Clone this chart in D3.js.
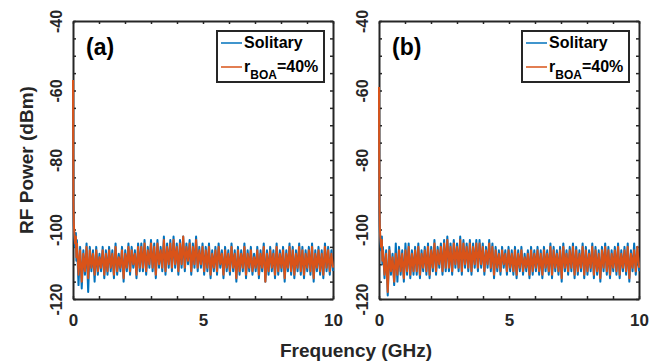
<!DOCTYPE html>
<html>
<head>
<meta charset="utf-8">
<title>RF spectra</title>
<script src="https://d3js.org/d3.v7.min.js"></script>
<style>
body { margin: 0; background: #fff; }
svg { font-family: "Liberation Sans", Arial, sans-serif; font-weight: bold; }
</style>
</head>
<body>
<script>
// frequency points of the DC peak (GHz)
var peakFreq = [0, 0.005, 0.015, 0.03, 0.05, 0.08, 0.11, 0.13];
var peakSolA = [-60, -80, -94, -99, -102, -105, -101, -109];
var peakBoaA = [-57, -75, -92, -98, -101, -104, -102, -108];
var peakSolB = [-62, -82, -95, -100, -103, -106, -102, -110];
var peakBoaB = [-59, -78, -93, -99, -102, -105, -103, -109];

// noise floor, sampled from 0.15 GHz to 10 GHz
var noiseStart = 0.15, noiseStep = 9.85 / 159;

var noiseSolA = [
  -103,-116,-105,-117,-106,-113,-104,-118,-105,-112,-106,-115,-105,-113,-107,-112,-105,-114,-106,-113,
  -105,-112,-106,-114,-104,-113,-107,-112,-105,-115,-106,-112,-104,-113,-105,-111,-106,-114,-104,-112,
  -104,-112,-103,-113,-105,-111,-103,-112,-104,-114,-103,-111,-105,-112,-102,-113,-104,-111,-103,-112,
  -102,-111,-104,-113,-103,-111,-102,-112,-104,-110,-103,-113,-104,-111,-102,-112,-105,-111,-104,-113,
  -105,-112,-104,-114,-106,-112,-105,-113,-104,-111,-106,-114,-105,-112,-106,-113,-104,-112,-106,-115,
  -105,-113,-106,-112,-104,-114,-106,-112,-105,-113,-107,-112,-105,-114,-106,-112,-104,-115,-106,-113,
  -105,-112,-106,-114,-104,-113,-106,-112,-105,-115,-106,-112,-104,-113,-105,-114,-106,-112,-104,-113,
  -105,-114,-106,-112,-105,-113,-104,-115,-106,-112,-105,-113,-106,-114,-104,-112,-105,-113,-106,-112
];
var noiseBoaA = [
  -104,-113,-106,-115,-107,-112,-105,-114,-106,-111,-107,-113,-106,-112,-108,-111,-106,-113,-107,-112,
  -106,-111,-107,-113,-105,-112,-108,-111,-106,-114,-107,-111,-105,-112,-106,-110,-107,-113,-105,-111,
  -105,-111,-104,-112,-106,-110,-104,-111,-105,-113,-104,-110,-106,-111,-103,-112,-105,-110,-104,-111,
  -103,-110,-105,-112,-104,-110,-102,-111,-105,-109,-104,-112,-105,-110,-103,-111,-106,-110,-105,-112,
  -106,-111,-105,-113,-107,-111,-106,-112,-105,-110,-107,-113,-106,-111,-107,-112,-105,-111,-107,-114,
  -106,-112,-107,-111,-105,-113,-107,-111,-106,-112,-108,-111,-106,-113,-107,-111,-105,-115,-107,-112,
  -106,-111,-107,-113,-105,-112,-107,-111,-106,-114,-107,-111,-105,-112,-106,-113,-107,-111,-105,-112,
  -106,-113,-107,-111,-106,-112,-105,-114,-107,-111,-106,-112,-107,-113,-105,-111,-106,-112,-107,-111
];
var noiseSolB = [
  -105,-114,-106,-119,-105,-113,-107,-116,-104,-115,-105,-113,-106,-115,-104,-113,-104,-114,-106,-113,
  -105,-113,-104,-114,-106,-112,-105,-113,-104,-114,-105,-112,-103,-113,-105,-111,-104,-113,-103,-112,
  -102,-112,-104,-113,-103,-111,-104,-112,-102,-113,-103,-111,-104,-112,-103,-113,-104,-111,-103,-112,
  -103,-111,-104,-113,-105,-111,-103,-112,-104,-114,-105,-112,-106,-113,-105,-111,-106,-113,-105,-112,
  -106,-113,-105,-114,-106,-112,-105,-113,-107,-112,-106,-114,-105,-113,-106,-112,-105,-113,-106,-114,
  -105,-112,-106,-113,-104,-114,-105,-112,-106,-113,-105,-115,-104,-112,-106,-113,-105,-112,-104,-114,
  -105,-113,-106,-112,-104,-114,-105,-113,-106,-112,-104,-114,-105,-113,-106,-115,-105,-112,-104,-113,
  -105,-114,-106,-112,-105,-113,-104,-114,-106,-112,-105,-113,-104,-115,-106,-112,-104,-113,-105,-112
];
var noiseBoaB = [
  -106,-113,-107,-118,-106,-112,-108,-115,-107,-113,-106,-112,-107,-114,-106,-112,-105,-113,-107,-112,
  -106,-112,-105,-113,-107,-111,-106,-112,-105,-113,-106,-111,-104,-112,-106,-110,-105,-112,-104,-111,
  -103,-111,-105,-112,-104,-110,-105,-111,-103,-112,-104,-110,-105,-111,-104,-112,-105,-110,-104,-111,
  -104,-110,-105,-112,-106,-110,-104,-111,-105,-113,-106,-111,-107,-112,-106,-110,-107,-112,-106,-111,
  -107,-112,-106,-113,-107,-111,-106,-112,-108,-111,-107,-113,-106,-112,-107,-111,-106,-112,-107,-113,
  -106,-111,-107,-112,-105,-113,-106,-111,-107,-112,-106,-114,-105,-111,-107,-112,-106,-111,-105,-113,
  -106,-112,-107,-111,-105,-113,-106,-112,-107,-111,-105,-113,-106,-112,-107,-114,-106,-111,-105,-112,
  -106,-113,-107,-111,-106,-112,-105,-113,-107,-111,-106,-112,-105,-114,-107,-111,-106,-112,-105,-111
];

var xTicks = [0, 1, 2, 3, 4, 5, 6, 7, 8, 9, 10];
var xLabels = [0, 5, 10];
var yTicks = [-120, -115, -110, -105, -100, -95, -90, -85, -80, -75, -70, -65, -60, -55, -50, -45, -40];
var yLabels = [-120, -100, -80, -60, -40];
var legendNames = ["Solitary", "r_BOA=40%"];
var colors = ["#0072BD", "#D95319"];
var axisColor = "#262626";

function series(peak, noise) {
  var pts = peak.map(function(v, i) { return [peakFreq[i], v]; });
  noise.forEach(function(v, i) { pts.push([noiseStart + i * noiseStep, v]); });
  return pts;
}

var panels = [
  { tag: "(a)", left: 73, legendX: 217, data: [series(peakSolA, noiseSolA), series(peakBoaA, noiseBoaA)] },
  { tag: "(b)", left: 379, legendX: 522, data: [series(peakSolB, noiseSolB), series(peakBoaB, noiseBoaB)] }
];

var W = 657, H = 364, plotTop = 21, plotBottom = 299, pw = 260;

var svg = d3.select("body").append("svg")
  .attr("width", W).attr("height", H);

var y = d3.scaleLinear().domain([-120, -40]).range([plotBottom, plotTop]);

panels.forEach(function(p, k) {
  var x = d3.scaleLinear().domain([0, 10]).range([p.left, p.left + pw]);
  var g = svg.append("g");

  // box axes with inward ticks
  var xb = g.append("g").attr("transform", "translate(0," + plotBottom + ")")
    .call(d3.axisBottom(x).tickValues(xTicks).tickSizeInner(-3).tickSizeOuter(0)
      .tickFormat(function(d) { return xLabels.indexOf(d) >= 0 ? d : ""; }));
  xb.selectAll("text").attr("y", 27).attr("dy", null)
    .attr("font-size", 17).attr("font-weight", "bold").attr("font-family", "Liberation Sans, Arial, sans-serif");

  g.append("g").attr("transform", "translate(0," + plotTop + ")")
    .call(d3.axisTop(x).tickValues(xTicks).tickSizeInner(-3).tickSizeOuter(0).tickFormat(""));

  var yl = g.append("g").attr("transform", "translate(" + p.left + ",0)")
    .call(d3.axisLeft(y).tickValues(yTicks).tickSizeInner(-3).tickSizeOuter(0)
      .tickFormat(function(d) { return yLabels.indexOf(d) >= 0 ? d : ""; }));
  yl.selectAll("text")
    .attr("x", 0).attr("y", -11).attr("dy", null)
    .attr("transform", "rotate(-90)")
    .attr("text-anchor", "middle")
    .attr("font-size", 16).attr("font-weight", "bold").attr("font-family", "Liberation Sans, Arial, sans-serif");

  g.append("g").attr("transform", "translate(" + (p.left + pw) + ",0)")
    .call(d3.axisRight(y).tickValues(yTicks).tickSizeInner(-3).tickSizeOuter(0).tickFormat(""));

  g.selectAll(".domain").attr("stroke", axisColor).attr("stroke-width", 2);
  g.selectAll(".tick line").attr("stroke", axisColor).attr("stroke-width", 1.5);
  g.selectAll(".tick text").attr("fill", axisColor);

  // spectra drawn over the axes
  g.append("clipPath").attr("id", "clip" + k)
    .append("rect").attr("x", p.left - 1).attr("y", plotTop).attr("width", pw + 2).attr("height", plotBottom - plotTop);

  var line = d3.line().x(function(d) { return x(d[0]); }).y(function(d) { return y(d[1]); });

  p.data.forEach(function(s, j) {
    g.append("path").datum(s)
      .attr("clip-path", "url(#clip" + k + ")")
      .attr("d", line)
      .attr("fill", "none")
      .attr("stroke", colors[j])
      .attr("stroke-width", 2)
      .attr("stroke-linejoin", "round");
  });

  g.append("text").attr("x", p.left + 13).attr("y", 55)
    .attr("font-size", 23).attr("fill", "#000").text(p.tag);

  // legend
  var lg = g.append("g").attr("transform", "translate(" + p.legendX + ",31)");
  lg.append("rect").attr("width", 107).attr("height", 51)
    .attr("fill", "#fff").attr("stroke", axisColor).attr("stroke-width", 2);
  [12, 36].forEach(function(ly, j) {
    lg.append("line").attr("x1", 4).attr("x2", 25).attr("y1", ly).attr("y2", ly)
      .attr("stroke", colors[j]).attr("stroke-width", 1.5);
  });
  lg.append("text").attr("x", 27).attr("y", 17).attr("font-size", 16).text(legendNames[0]);
  var t2 = lg.append("text").attr("x", 27).attr("y", 41).attr("font-size", 16);
  var parts = legendNames[1].split(/_|=/);
  t2.append("tspan").text(parts[0]);
  t2.append("tspan").attr("font-size", 12).attr("dy", 7).text(parts[1]);
  t2.append("tspan").attr("dy", -7).text("=" + parts[2]);
});

svg.append("text")
  .attr("transform", "translate(33," + ((plotTop + plotBottom) / 2) + ") rotate(-90)")
  .attr("text-anchor", "middle").attr("font-size", 19).attr("fill", axisColor)
  .text("RF Power (dBm)");

svg.append("text")
  .attr("x", 356).attr("y", 357)
  .attr("text-anchor", "middle").attr("font-size", 19).attr("fill", axisColor)
  .text("Frequency (GHz)");
</script>
</body>
</html>
